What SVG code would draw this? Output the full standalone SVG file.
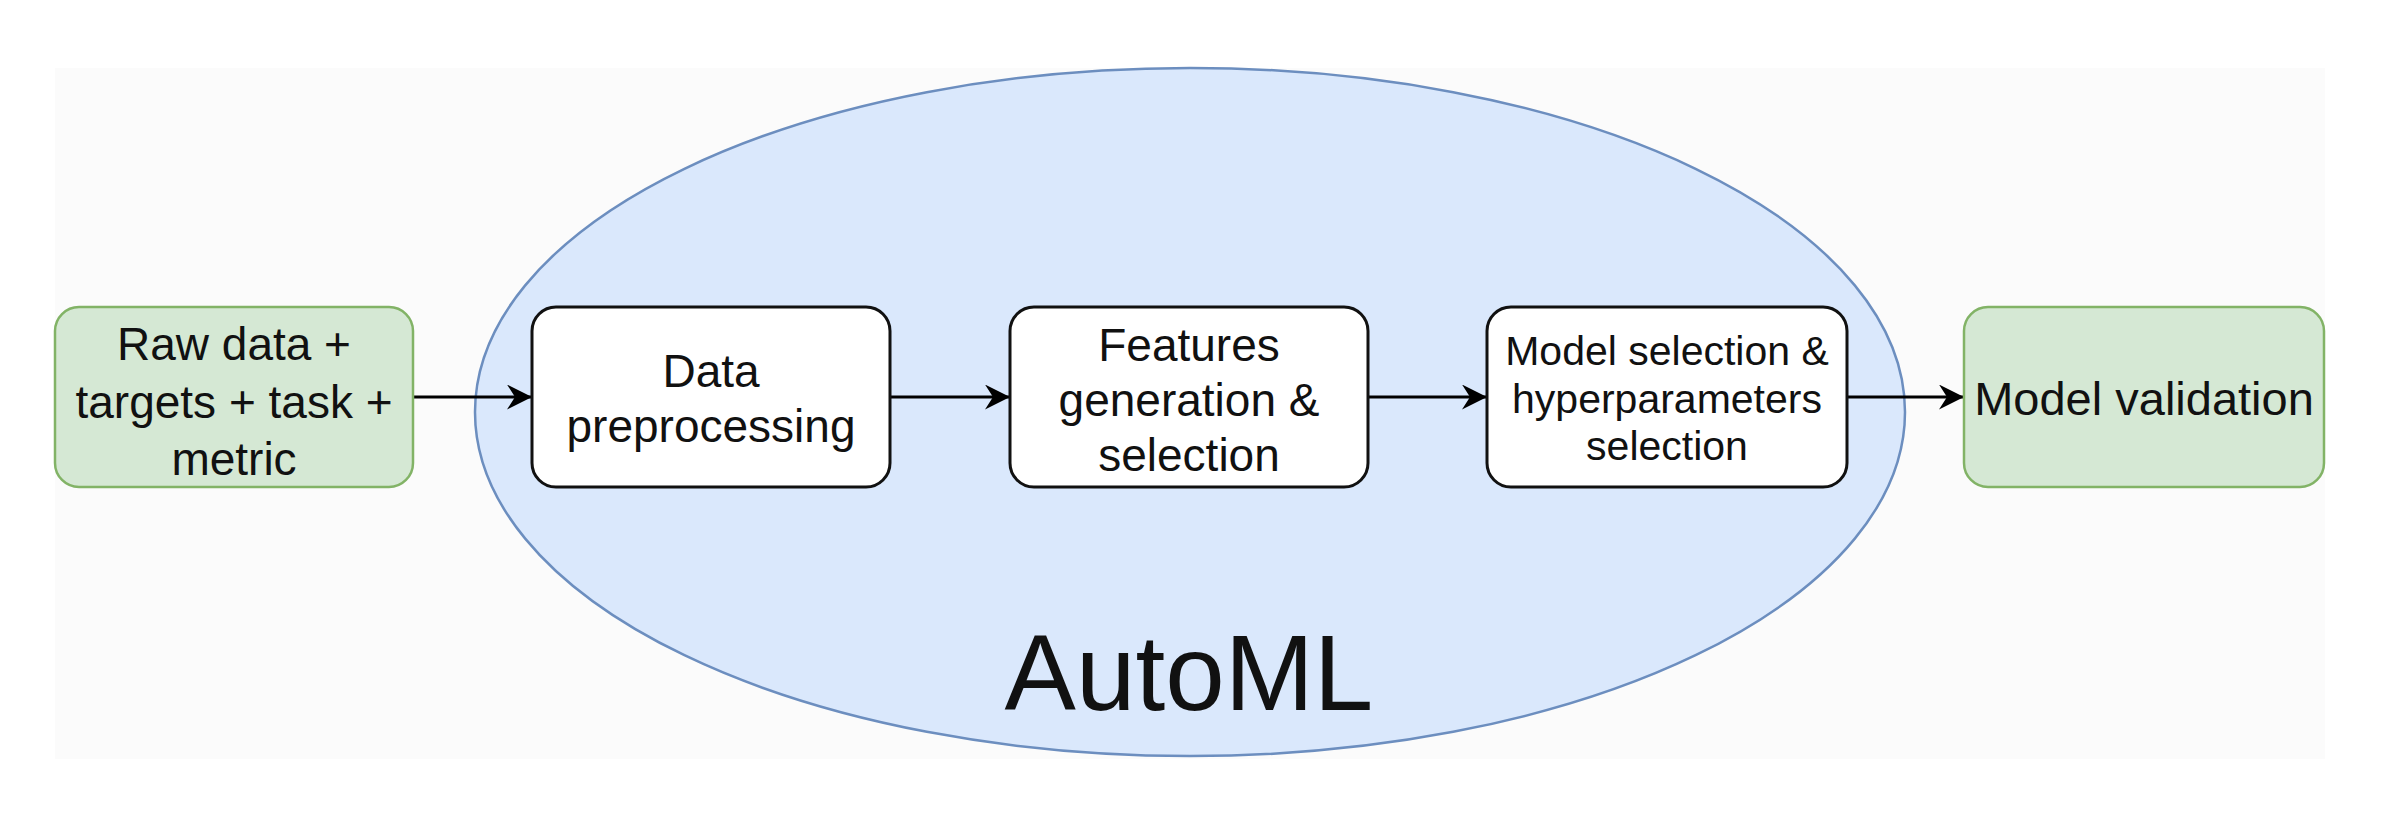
<svg xmlns="http://www.w3.org/2000/svg" width="2390" height="826" viewBox="0 0 2390 826">
  <style>
    .txt { font-family: "Liberation Sans", Arial, sans-serif; fill: #111; text-anchor: middle; }
    .green { fill: #d5e8d4; stroke: #82b366; stroke-width: 2.5; }
    .white { fill: #ffffff; stroke: #111; stroke-width: 3; }
    .conn { stroke: #000; stroke-width: 3; fill: none; marker-end: url(#arrow); }
  </style>
  <defs>
    <marker id="arrow" markerUnits="userSpaceOnUse" viewBox="0 0 25 25" markerWidth="25" markerHeight="25" refX="25" refY="12.5" orient="auto">
      <path d="M0,0 L25,12.5 L0,25 L8,12.5 Z" fill="#000"/>
    </marker>
  </defs>
  <rect x="0" y="0" width="2390" height="826" fill="#ffffff"/>
  <rect x="55" y="68" width="2270" height="691" fill="#fbfbfb"/>

  <g id="automl">
    <ellipse cx="1190" cy="412" rx="715" ry="344" fill="#dae8fc" stroke="#6c8ebf" stroke-width="2.5"/>
    <text class="txt" x="1189" y="710" font-size="107">AutoML</text>
  </g>

  <g id="connectors">
    <line class="conn" x1="413" y1="397" x2="532" y2="397"/>
    <line class="conn" x1="890" y1="397" x2="1010" y2="397"/>
    <line class="conn" x1="1368" y1="397" x2="1487" y2="397"/>
    <line class="conn" x1="1847" y1="397" x2="1964" y2="397"/>
  </g>

  <g id="raw-data">
    <rect class="green" x="55" y="307" width="358" height="180" rx="24"/>
    <text class="txt" font-size="46"><tspan x="234" y="360">Raw data +</tspan><tspan x="234" y="418">targets + task +</tspan><tspan x="234" y="475">metric</tspan></text>
  </g>

  <g id="data-preprocessing">
    <rect class="white" x="532" y="307" width="358" height="180" rx="24"/>
    <text class="txt" font-size="46"><tspan x="711" y="387">Data</tspan><tspan x="711" y="442">preprocessing</tspan></text>
  </g>

  <g id="features">
    <rect class="white" x="1010" y="307" width="358" height="180" rx="24"/>
    <text class="txt" font-size="46"><tspan x="1189" y="361">Features</tspan><tspan x="1189" y="416">generation &amp;</tspan><tspan x="1189" y="471">selection</tspan></text>
  </g>

  <g id="model-selection">
    <rect class="white" x="1487" y="307" width="360" height="180" rx="24"/>
    <text class="txt" font-size="41"><tspan x="1667" y="365">Model selection &amp;</tspan><tspan x="1667" y="413">hyperparameters</tspan><tspan x="1667" y="460">selection</tspan></text>
  </g>

  <g id="model-validation">
    <rect class="green" x="1964" y="307" width="360" height="180" rx="24"/>
    <text class="txt" x="2144" y="415" font-size="47">Model validation</text>
  </g>
</svg>
